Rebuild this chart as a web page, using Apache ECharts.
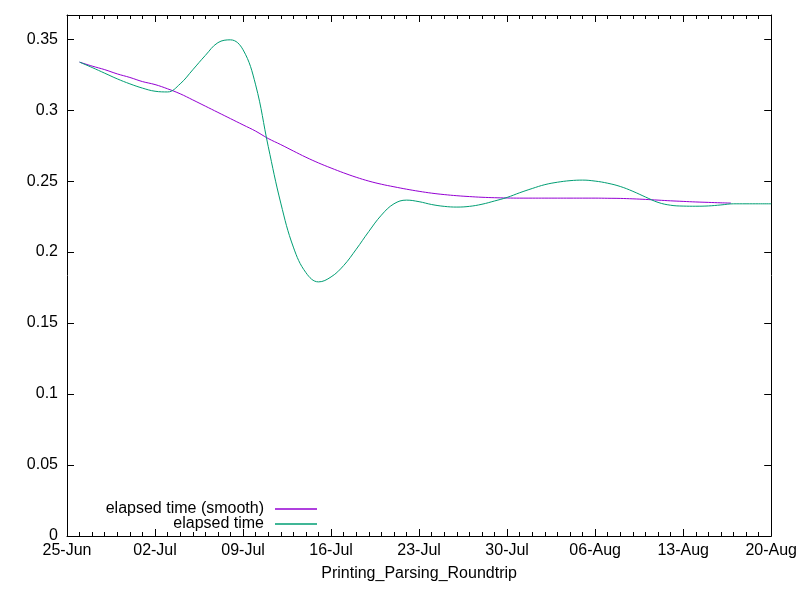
<!DOCTYPE html>
<html>
<head>
<meta charset="utf-8">
<script src="https://cdn.jsdelivr.net/npm/echarts@6/dist/echarts.min.js"></script>
<style>
  html, body { margin: 0; padding: 0; background: #fff; }
  #container { width: 800px; height: 600px; }
</style>
</head>
<body>
<div id="container"></div>
<script>
// tick labels along x (one every 7 days starting 25-Jun)
var dateLabels = ['25-Jun', '02-Jul', '09-Jul', '16-Jul', '23-Jul', '30-Jul', '06-Aug', '13-Aug', '20-Aug'];

// days since 25-Jun
var rawDays = [1, 2, 3, 4, 5, 6, 7, 8, 9, 10, 11, 12, 13, 14, 15, 16, 17, 18, 19, 20,
    21, 22, 23, 24, 25, 26, 27, 28, 29, 30, 31, 32, 33, 34, 35, 36, 37, 38, 39, 40,
    41, 42, 43, 44, 45, 46, 47, 48, 49, 50, 51, 52, 53, 54, 55, 56];
var rawValues = [0.3338, 0.3300, 0.3260, 0.3220, 0.3185, 0.3155, 0.3133, 0.3128, 0.3185, 0.3284,
    0.3385, 0.3475, 0.3495, 0.3425, 0.3178, 0.2745, 0.2345, 0.2035, 0.1855, 0.1790,
    0.1825, 0.1905, 0.2020, 0.2145, 0.2260, 0.2340, 0.2366, 0.2355, 0.2335, 0.2322,
    0.2317, 0.2322, 0.2337, 0.2360, 0.2385, 0.2418, 0.2448, 0.2475, 0.2492, 0.2503,
    0.2507, 0.2500, 0.2485, 0.2462, 0.2428, 0.2388, 0.2350, 0.2330, 0.2324, 0.2323,
    0.2325, 0.2332, 0.2340, 0.2340, 0.2340, 0.2340];

var smoothDays = [1, 2, 3, 4, 5, 6, 7, 8, 9, 10, 11, 12, 13, 14, 15, 16, 17, 18, 19, 20,
    21, 22, 23, 24, 25, 26, 27, 28, 29, 30, 31, 32, 33, 34, 35, 36, 37, 38, 39, 40,
    41, 42, 43, 44, 45, 46, 47, 48, 49, 50, 51, 52, 52.8];
var smoothValues = [0.3338, 0.3310, 0.3285, 0.3255, 0.3230, 0.3201, 0.3180, 0.3150, 0.3115, 0.3072,
    0.3028, 0.2984, 0.2940, 0.2896, 0.2852, 0.2800, 0.2757, 0.2712, 0.2668, 0.2628,
    0.2592, 0.2558, 0.2527, 0.2500, 0.2478, 0.2460, 0.2443, 0.2428, 0.2415, 0.2405,
    0.2397, 0.2391, 0.2386, 0.2383, 0.2381, 0.2380, 0.2380, 0.2380, 0.2380, 0.2380,
    0.2380, 0.2380, 0.2379, 0.2378, 0.2375, 0.2371, 0.2366, 0.2361, 0.2357, 0.2353,
    0.2350, 0.2347, 0.2345];

function pairs(xs, ys) {
    var out = [];
    for (var i = 0; i < xs.length; i++) out.push([xs[i], ys[i]]);
    return out;
}

var dom = document.getElementById('container');
var myChart = echarts.init(dom);
var font = 'Liberation Sans, Arial, sans-serif';

function xAxisOf(pos, labels) {
    return {
        type: 'value',
        position: pos,
        min: 0,
        max: 56,
        interval: 7,
        splitLine: { show: false },
        axisLine: { show: true, onZero: false, lineStyle: { color: '#000', width: 1 } },
        axisTick: { show: true, inside: true, length: 7, lineStyle: { color: '#000' } },
        minorTick: { show: true, splitNumber: 7, length: 4, lineStyle: { color: '#000' } },
        axisLabel: labels
    };
}
function yAxisOf(pos, labels) {
    return {
        type: 'value',
        position: pos,
        min: 0,
        max: 0.367,
        interval: 0.05,
        splitLine: { show: false },
        axisLine: { show: true, onZero: false, lineStyle: { color: '#000', width: 1 } },
        axisTick: { show: true, inside: true, length: 7, lineStyle: { color: '#000' } },
        axisLabel: labels
    };
}

var bottomX = xAxisOf('bottom', {
    color: '#000', fontSize: 16, fontFamily: font, margin: 7,
    formatter: function (v) { return dateLabels[Math.round(v / 7)]; }
});
bottomX.name = 'Printing_Parsing_Roundtrip';
bottomX.nameLocation = 'middle';
bottomX.nameGap = 30;
bottomX.nameTextStyle = { color: '#000', fontSize: 16, fontFamily: font };

var option = {
    animation: false,
    backgroundColor: '#fff',
    grid: { left: 67, right: 28, top: 15, bottom: 64 },
    legend: [
        {
            data: ['elapsed time (smooth)'],
            right: 478, top: 496,
            align: 'right',
            icon: 'rect', itemWidth: 42, itemHeight: 1.5,
            textStyle: { color: '#000', fontSize: 16, fontFamily: font, padding: [0, 6, 0, 0] }
        },
        {
            data: ['elapsed time'],
            right: 478, top: 511,
            align: 'right',
            icon: 'rect', itemWidth: 42, itemHeight: 1.5,
            textStyle: { color: '#000', fontSize: 16, fontFamily: font, padding: [0, 6, 0, 0] }
        }
    ],
    xAxis: [
        bottomX,
        xAxisOf('top', { show: false })
    ],
    yAxis: [
        yAxisOf('left', { color: '#000', fontSize: 16, fontFamily: font, margin: 9, showMaxLabel: false }),
        yAxisOf('right', { show: false })
    ],
    series: [
        {
            name: 'elapsed time (smooth)',
            type: 'line',
            xAxisIndex: 0, yAxisIndex: 0,
            showSymbol: false, symbol: 'none',
            smooth: 0.4,
            color: '#9400d3',
            lineStyle: { width: 1, color: '#9400d3' },
            data: pairs(smoothDays, smoothValues)
        },
        {
            name: 'elapsed time',
            type: 'line',
            xAxisIndex: 0, yAxisIndex: 0,
            showSymbol: false, symbol: 'none',
            smooth: 0.4,
            color: '#009e73',
            lineStyle: { width: 1, color: '#009e73' },
            data: pairs(rawDays, rawValues)
        }
    ]
};

if (option && typeof option === 'object') {
    myChart.setOption(option, true);
}
</script>
</body>
</html>
